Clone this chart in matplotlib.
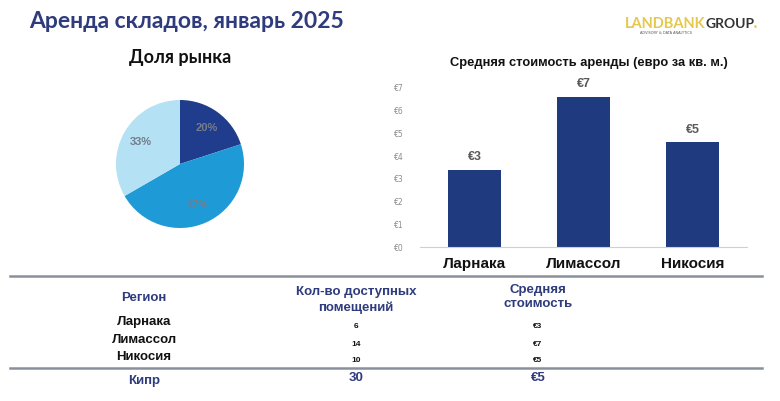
import matplotlib

matplotlib.use("Agg")
import matplotlib.pyplot as plt
import numpy as np
from matplotlib.lines import Line2D

# данные
regions = ["Ларнака", "Лимассол", "Никосия"]
units_available = [6, 14, 10]
avg_rent = [3.4, 6.6, 4.6]
total_region = "Кипр"
total_units = 30
total_rent = 5

pie_colors = ["#203C8C", "#1E9AD6", "#B4E1F3"]
bar_color = "#203A80"
navy = "#2E3B7C"
sans = ["Liberation Sans", "DejaVu Sans"]
geo = ["Lato", "DejaVu Sans"]

fig = plt.figure(figsize=(7.8, 4.01), dpi=100)
W, H = 780, 401


def fx(px):
    return px / W


def fy(py):
    return 1 - py / H


# заголовки
fig.text(fx(29), fy(22), "Аренда складов, январь 2025", fontsize=16.5, fontweight="bold",
         color=navy, family=geo, va="center", ha="left")
fig.text(fx(180), fy(57), "Доля рынка", fontsize=13, fontweight="bold",
         color="#111111", family=geo, va="center", ha="center")

# логотип
fig.text(fx(625), fy(24), "LANDBANK", fontsize=10.5, fontweight="bold", color="#E6C84C",
         family=geo, va="center", ha="left")
fig.text(fx(705), fy(24), "GROUP", fontsize=10, fontweight="bold", color="#333333",
         family=geo, va="center", ha="left")
fig.text(fx(753), fy(28), "•", fontsize=6, color="#E6C84C", va="center", ha="left")
fig.text(fx(640), fy(33), "ADVISORY & DATA ANALYTICS", fontsize=2.5, color="#555555",
         va="center", ha="left")

# круговая диаграмма
ax_pie = fig.add_axes([fx(116), fy(228), 128 / W, 128 / H])
total = sum(units_available)
wedges, texts = ax_pie.pie(units_available, colors=pie_colors, startangle=90,
                           counterclock=False)
for w, v in zip(wedges, units_available):
    ang = np.deg2rad((w.theta1 + w.theta2) / 2)
    r = 0.7
    ax_pie.text(r * np.cos(ang), r * np.sin(ang), f"{round(v / total * 100)}%",
                ha="center", va="center", fontsize=8, fontweight="bold", color="#737D8C",
                family=sans)
ax_pie.set_xlim(-1, 1)
ax_pie.set_ylim(-1, 1)
ax_pie.set_aspect("equal")

# столбчатая диаграмма
ax_bar = fig.add_axes([fx(420), fy(247), 327 / W, 166 / H])
x = range(len(regions))
bars = ax_bar.bar(x, avg_rent, width=0.49, color=bar_color)
for b, v in zip(bars, avg_rent):
    ax_bar.text(b.get_x() + b.get_width() / 2, v + 0.3, f"€{round(v)}", ha="center",
                va="bottom", fontsize=9, fontweight="bold", color="#595959", family=sans)
ax_bar.set_xlim(-0.5, 2.5)
ax_bar.set_ylim(0, 7.3)
ax_bar.set_yticks(range(8))
ax_bar.set_yticklabels([f"€{i}" for i in range(8)], fontsize=5.5, color="#8C8C8C")
ax_bar.set_xticks(list(x))
ax_bar.set_xticklabels(regions, fontsize=11, fontweight="bold", family=sans,
                       color="#111111")
ax_bar.tick_params(length=0)
ax_bar.tick_params(axis="y", pad=12)
ax_bar.tick_params(axis="x", pad=7)
for s in ["top", "right", "left"]:
    ax_bar.spines[s].set_visible(False)
ax_bar.spines["bottom"].set_color("#D0D0D0")
ax_bar.set_facecolor("none")
fig.text(fx(589), fy(63), "Средняя стоимость аренды (евро за кв. м.)", fontsize=9.3,
         fontweight="bold", family=sans, color="#111111", ha="center", va="center")

# разделители
for py in (276, 368):
    fig.add_artist(Line2D([fx(10), fx(762)], [fy(py), fy(py)], color="#8A9099", lw=1.8))

# таблица
col_x = [fx(144), fx(356), fx(538)]
fig.text(col_x[0], fy(298), "Регион", fontsize=9.5, fontweight="bold", color=navy,
         family=sans, ha="center", va="center")
fig.text(col_x[1], fy(300), "Кол-во доступных\nпомещений", fontsize=9.5, fontweight="bold",
         color=navy, family=sans, ha="center", va="center", linespacing=1.3)
fig.text(col_x[2], fy(297), "Средняя\nстоимость", fontsize=9.5, fontweight="bold",
         color=navy, family=sans, ha="center", va="center", linespacing=1.3)

row_y = [322, 340, 357]
for i, (reg, n, r) in enumerate(zip(regions, units_available, avg_rent)):
    fig.text(col_x[0], fy(row_y[i]), reg, fontsize=9.5, fontweight="bold", color="#111111",
             family=sans, ha="center", va="center")
    fig.text(col_x[1], fy(row_y[i] + 4), str(n), fontsize=6, fontweight="bold",
             color="#111111", family=sans, ha="center", va="center")
    fig.text(col_x[2], fy(row_y[i] + 4), f"€{round(r)}", fontsize=6, fontweight="bold",
             color="#111111", family=sans, ha="center", va="center")

fig.text(col_x[0], fy(381), total_region, fontsize=9.5, fontweight="bold", color=navy,
         family=sans, ha="center", va="center")
fig.text(col_x[1], fy(378), str(total_units), fontsize=9.5, fontweight="bold", color=navy,
         family=sans, ha="center", va="center")
fig.text(col_x[2], fy(378), f"€{total_rent}", fontsize=9.5, fontweight="bold", color=navy,
         family=sans, ha="center", va="center")

fig.savefig("out.png", dpi=100)
